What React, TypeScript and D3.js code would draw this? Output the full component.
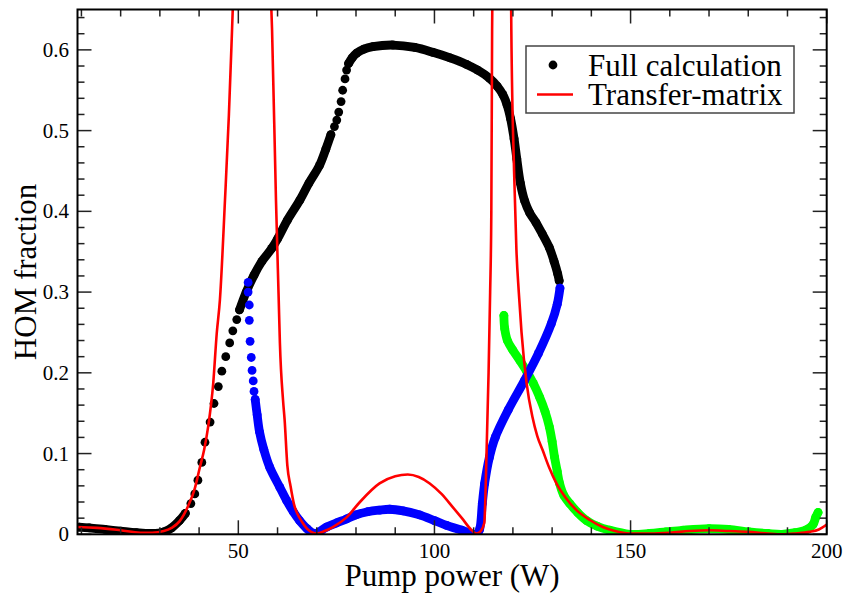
import React, { useEffect, useState } from 'react';
import * as d3 from 'd3';

// axis ticks
const xMajorTicks = [50, 100, 150, 200];
const yMajorTicks = [0, 0.1, 0.2, 0.3, 0.4, 0.5, 0.6];
const yTickLabels = ['0', '0.1', '0.2', '0.3', '0.4', '0.5', '0.6'];

// Full calculation (black) - dense parts drawn as a band, sparse parts as dots
const fullDenseA: [number, number][] = [
  [9.4, 0.009], [12, 0.008], [16, 0.006], [20, 0.004], [24, 0.002], [28, 0.001],
  [31, 0.003], [33, 0.008], [35, 0.017], [36.5, 0.026],
];
const fullDots1: [number, number][] = [
  [37.9, 0.038], [38.9, 0.05], [39.7, 0.067], [40.7, 0.089], [41.5, 0.114],
  [42.8, 0.139], [43.8, 0.162], [44.9, 0.183], [45.8, 0.202], [46.8, 0.22],
  [47.8, 0.237], [48.6, 0.252], [49.6, 0.266],
];
const fullDenseB: [number, number][] = [
  [50.3, 0.278], [52, 0.3], [54, 0.321], [56, 0.338], [58.5, 0.354], [60, 0.366],
  [62.5, 0.389], [65.7, 0.414], [68, 0.435], [70.7, 0.457], [72.3, 0.477], [73.6, 0.495],
];
const fullDots2: [number, number][] = [
  [74.5, 0.505], [75.1, 0.513], [75.6, 0.523], [76.2, 0.536], [76.6, 0.55],
  [77.2, 0.564], [77.6, 0.575],
];
const fullDenseC: [number, number][] = [
  [78.1, 0.583], [79, 0.59], [80.2, 0.596], [82, 0.601], [84.3, 0.604], [89.4, 0.606],
  [95, 0.603], [99.6, 0.597], [104, 0.59], [108.2, 0.582], [111, 0.575], [114, 0.565],
  [116, 0.555], [117.4, 0.545], [118.5, 0.532], [119.4, 0.515], [120.3, 0.49],
  [121, 0.465], [121.9, 0.435], [123, 0.413], [124.3, 0.398], [125.9, 0.386],
  [127.5, 0.372], [129.3, 0.355], [130.5, 0.338], [131.4, 0.323], [131.8, 0.314],
];

// Full calculation (blue branch)
const blueDots: [number, number][] = [
  [52.5, 0.312], [52.5, 0.3], [52.8, 0.284], [52.8, 0.265], [53.0, 0.239],
  [53.3, 0.219], [53.5, 0.203], [53.8, 0.19], [54.0, 0.177],
];
const blueDense: [number, number][] = [
  [54.3, 0.167], [54.8, 0.148], [55.4, 0.127], [56.5, 0.105], [58, 0.083],
  [60.6, 0.058], [62.3, 0.042], [64, 0.028], [65.6, 0.017], [67.5, 0.007],
  [69.5, 0.001], [72.5, 0.009], [75, 0.014], [77.6, 0.019], [80, 0.024], [83, 0.028],
  [86, 0.03], [88.6, 0.031], [92, 0.029], [96.2, 0.024], [100, 0.017], [103.1, 0.011],
  [107, 0.005], [110.7, 0.0], [111.5, 0.006], [112.2, 0.038], [112.8, 0.063],
  [114, 0.095], [115.5, 0.12], [118.8, 0.154], [122.9, 0.19], [126.5, 0.224],
  [129.8, 0.261], [131.3, 0.285], [132, 0.305],
];

// Full calculation (green branch)
const greenDense: [number, number][] = [
  [117.7, 0.271], [117.9, 0.255], [118.6, 0.24], [120, 0.228], [121.8, 0.215],
  [123.5, 0.202], [125.2, 0.187], [126.8, 0.17], [128.2, 0.152], [129.3, 0.133],
  [130, 0.115], [130.6, 0.096], [131.3, 0.078], [131.9, 0.063], [133, 0.048],
  [134.5, 0.038], [136.5, 0.027], [138.8, 0.017], [141.5, 0.01], [144.7, 0.005],
  [149.8, 0.0], [154.8, 0.001], [159, 0.003], [163.3, 0.005], [170, 0.007],
  [175, 0.006], [180.2, 0.003], [185, 0.001], [188.6, 0.0], [192, 0.002],
  [194.6, 0.005], [196.5, 0.012], [197.2, 0.021], [197.8, 0.027],
];

// Transfer-matrix (red line)
const transferMatrix: [number, number][] = [
  [9, 0.009], [14, 0.008], [20, 0.005], [25, 0.002], [28, 0.002], [31, 0.004],
  [33, 0.008], [35, 0.016], [37.2, 0.035], [38.8, 0.055], [40.2, 0.083], [41.3, 0.105],
  [42.3, 0.133], [43.6, 0.187], [44.5, 0.249], [45.3, 0.29], [46.6, 0.414],
  [47.6, 0.52], [48.4, 0.625], [49.3, 0.75], [53.5, 1.2], [57.7, 0.75], [58.6, 0.625],
  [59.6, 0.414], [60.3, 0.29], [60.6, 0.237], [61.4, 0.166], [61.8, 0.142],
  [62.5, 0.085], [63.3, 0.06], [64.2, 0.037], [65, 0.026], [66.3, 0.015],
  [67.5, 0.007], [69, 0.002], [70, 0.001], [72, 0.004], [74.1, 0.009], [77.6, 0.021],
  [81, 0.04], [86, 0.063], [90, 0.072], [93.2, 0.074], [96, 0.071], [98.8, 0.063],
  [101.8, 0.05], [104.6, 0.034], [107, 0.02], [109.5, 0.005], [110.7, 0.001],
  [111.8, 0.004], [112.7, 0.014], [113.3, 0.104], [113.8, 0.2], [114.2, 0.3],
  [114.5, 0.4], [114.7, 0.625], [115, 0.8], [117, 1.2], [119.3, 0.8], [119.6, 0.625],
  [120.3, 0.45], [120.9, 0.352], [121.5, 0.3], [122.2, 0.25], [123.5, 0.187],
  [125, 0.145], [126.2, 0.122], [127.6, 0.104], [129.3, 0.082], [131.1, 0.063],
  [133.5, 0.045], [136.2, 0.03], [139.5, 0.018], [142.9, 0.009], [146, 0.004],
  [149.7, 0.001], [155, 0.001], [160, 0.002], [165, 0.004], [170, 0.005],
  [175, 0.004], [180, 0.003], [185, 0.001], [188.7, 0.0], [192, 0.001],
  [195.6, 0.003], [198, 0.006], [200, 0.012],
];

const W = 843;
const H = 593;
const left = 77.5, right = 826.7, top = 9.5, bottom = 534.3;
const SERIF = '"Liberation Serif", "Times New Roman", Tinos';

export default function App() {
  const [, setTick] = useState(0);
  useEffect(() => {
    const f = (document as any).fonts;
    if (f && f.load) f.load('31px "Liberation Serif"').then(() => setTick(t => t + 1)).catch(() => {});
  }, []);

  const x = d3.scaleLinear().domain([9, 200]).range([left, right]);
  const y = d3.scaleLinear().domain([0, 0.65]).range([bottom, top]);

  const band = d3.line<[number, number]>()
    .x(d => x(d[0]))
    .y(d => y(d[1]))
    .curve(d3.curveCatmullRom);
  const redLine = d3.line<[number, number]>()
    .x(d => x(d[0]))
    .y(d => y(d[1]))
    .curve(d3.curveMonotoneX);

  const xMinor = d3.range(10, 200, 10).filter(v => v % 50 !== 0);
  const yMinor = d3.range(0.02, 0.65, 0.02).filter(v => Math.abs(v * 10 - Math.round(v * 10)) > 0.01);

  const dots = (pts: [number, number][], color: string, key: string) =>
    pts.map((d, i) => <circle key={key + i} cx={x(d[0])} cy={y(d[1])} r={4.4} fill={color} />);
  const bandPath = (pts: [number, number][], color: string) => (
    <g>
      <path d={band(pts) || ''} fill="none" stroke={color} strokeWidth={8.8}
        strokeLinecap="round" strokeLinejoin="round" />
      {dots(pts, color, color)}
    </g>
  );

  const tickColor = '#222';
  const T = (props: any) => <text fontFamily={SERIF} style={{ fontFamily: SERIF }} {...props} />;

  return (
    <svg width={W} height={H} style={{ position: 'absolute', left: 0, top: 0 }}>
      <style>{`text { font-family: "Liberation Serif", "Times New Roman", Tinos !important; }`}</style>
      <defs>
        <clipPath id="plotclip">
          <rect x={left} y={top} width={right - left} height={bottom - top} />
        </clipPath>
      </defs>
      <rect x={0} y={0} width={W} height={H} fill="#fff" />

      <g clipPath="url(#plotclip)">
        {bandPath(fullDenseA, '#000')}
        {dots(fullDots1, '#000', 'b1')}
        {bandPath(fullDenseB, '#000')}
        {dots(fullDots2, '#000', 'b2')}
        {bandPath(fullDenseC, '#000')}
        {bandPath(greenDense, '#00ff00')}
        {dots(blueDots, '#0000ff', 'bl')}
        {bandPath(blueDense, '#0000ff')}
        <path d={redLine(transferMatrix) || ''} fill="none" stroke="#ff0000" strokeWidth={2.6} />
      </g>

      {/* ticks, mirrored on all sides, pointing inward */}
      <g stroke={tickColor} strokeWidth={1.5}>
        {xMajorTicks.map(v => (
          <g key={'xM' + v}>
            <line x1={x(v)} x2={x(v)} y1={bottom} y2={bottom - 14} />
            <line x1={x(v)} x2={x(v)} y1={top} y2={top + 14} />
          </g>
        ))}
        {xMinor.map(v => (
          <g key={'xm' + v}>
            <line x1={x(v)} x2={x(v)} y1={bottom} y2={bottom - 7} />
            <line x1={x(v)} x2={x(v)} y1={top} y2={top + 7} />
          </g>
        ))}
        {yMajorTicks.map(v => (
          <g key={'yM' + v}>
            <line x1={left} x2={left + 14} y1={y(v)} y2={y(v)} />
            <line x1={right} x2={right - 14} y1={y(v)} y2={y(v)} />
          </g>
        ))}
        {yMinor.map(v => (
          <g key={'ym' + v}>
            <line x1={left} x2={left + 7} y1={y(v)} y2={y(v)} />
            <line x1={right} x2={right - 7} y1={y(v)} y2={y(v)} />
          </g>
        ))}
      </g>
      <rect x={left} y={top} width={right - left} height={bottom - top} fill="none"
        stroke="#000" strokeWidth={2} />

      {/* tick labels */}
      {xMajorTicks.map(v => (
        <T key={'xl' + v} x={x(v)} y={558} textAnchor="middle" fontSize={21}>{v}</T>
      ))}
      {yMajorTicks.map((v, i) => (
        <T key={'yl' + v} x={69} y={y(v) + 7} textAnchor="end" fontSize={21}>{yTickLabels[i]}</T>
      ))}

      {/* axis titles */}
      <T x={(left + right) / 2} y={586} textAnchor="middle" fontSize={31}>Pump power (W)</T>
      <T transform={`translate(36,${(top + bottom) / 2}) rotate(-90)`} textAnchor="middle"
        fontSize={31}>HOM fraction</T>

      {/* legend */}
      <rect x={526} y={46} width={268} height={67} fill="#fff" stroke="#444" strokeWidth={1.5} />
      <circle cx={553} cy={65} r={4.4} fill="#000" />
      <T x={588} y={76} fontSize={31}>Full calculation</T>
      <line x1={537} x2={573} y1={94.5} y2={94.5} stroke="#ff0000" strokeWidth={2.6} />
      <T x={588} y={105} fontSize={31}>Transfer-matrix</T>
    </svg>
  );
}
